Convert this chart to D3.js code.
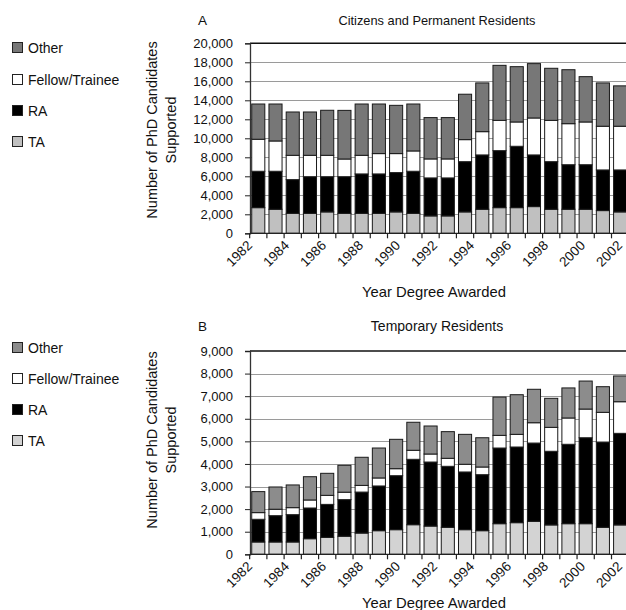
<!DOCTYPE html>
<html>
<head>
<meta charset="utf-8">
<script src="https://cdn.jsdelivr.net/npm/d3@7"></script>
<style>
  html, body { margin: 0; padding: 0; background: #fff; }
  svg { display: block; font-family: "Liberation Sans", Arial, Helvetica, sans-serif; }
</style>
</head>
<body>
<svg id="chart" width="626" height="610"></svg>
<script>
// Years covered by both panels
const years = d3.range(1982, 2004);
const yearTickLabels = [1982, 1984, 1986, 1988, 1990, 1992, 1994, 1996, 1998, 2000, 2002];
const seriesNames = ["TA", "RA", "Fellow/Trainee", "Other"];

// Panel A: citizens and permanent residents
const citizensTA     = [2700, 2530, 2100, 2100, 2250, 2100, 2100, 2100, 2250, 2100, 1830, 1830, 2250, 2530, 2700, 2700, 2810, 2530, 2530, 2530, 2390, 2250];
const citizensRA     = [3830, 4000, 3550, 3860, 3710, 3860, 4150, 4150, 4140, 4430, 4000, 4000, 5290, 5720, 6000, 6460, 5440, 5010, 4690, 4690, 4280, 4420];
const citizensFellow = [3370, 3190, 2560, 2250, 2250, 1860, 1960, 2140, 2000, 2140, 2000, 2000, 2320, 2450, 3190, 2560, 3890, 4350, 4320, 4500, 4600, 4600];
const citizensOther  = [3710, 3890, 4560, 4560, 4740, 5120, 5400, 5220, 5080, 4940, 4350, 4350, 4780, 5130, 5790, 5820, 5720, 5480, 5680, 4770, 4560, 4250];
const citizensTicks  = [0, 2000, 4000, 6000, 8000, 10000, 12000, 14000, 16000, 18000, 20000];

// Panel B: temporary residents
const temporaryTA     = [545, 545, 545, 690, 750, 800, 940, 1045, 1090, 1310, 1250, 1195, 1090, 1045, 1355, 1400, 1460, 1300, 1355, 1355, 1195, 1300];
const temporaryRA     = [1005, 1165, 1210, 1360, 1460, 1620, 1815, 1980, 2390, 2895, 2835, 2700, 2555, 2480, 3350, 3350, 3465, 3260, 3515, 3805, 3775, 4055];
const temporaryFellow = [295, 285, 310, 355, 400, 330, 295, 355, 310, 400, 355, 355, 340, 340, 560, 560, 900, 1060, 1165, 1270, 1315, 1400];
const temporaryOther  = [930, 985, 1005, 1030, 975, 1190, 1245, 1325, 1300, 1240, 1240, 1180, 1325, 1295, 1695, 1755, 1480, 1285, 1330, 1240, 1135, 1140];
const temporaryTicks  = [0, 1000, 2000, 3000, 4000, 5000, 6000, 7000, 8000, 9000];

const svg = d3.select("#chart");
const fmt = d3.format(",");

// the year labels run on their own evenly spaced axis under the bars
const labelX = d3.scaleLinear().domain([1982, 2002]).range([253, 623]);

function drawPanel(cfg) {
  const rows = years.map((yr, i) => ({
    year: yr,
    "TA": cfg.ta[i],
    "RA": cfg.ra[i],
    "Fellow/Trainee": cfg.fellow[i],
    "Other": cfg.other[i]
  }));
  const stacked = d3.stack().keys(seriesNames)(rows);

  const x = d3.scaleBand().domain(years)
    .range([cfg.left, cfg.left + 22 * 17.2])
    .paddingInner(0.24).paddingOuter(0.1);
  const y = d3.scaleLinear().domain([0, cfg.max]).range([cfg.bottom, cfg.top]);

  const g = svg.append("g");

  // horizontal gridlines
  g.append("g").selectAll("line")
    .data(cfg.ticks.slice(1, -1))
    .join("line")
    .attr("x1", cfg.left).attr("x2", 626)
    .attr("y1", d => Math.round(y(d)) + 0.5).attr("y2", d => Math.round(y(d)) + 0.5)
    .attr("stroke", "#9a9a9a").attr("stroke-width", 1);

  // top border of plot area
  g.append("line")
    .attr("x1", cfg.left).attr("x2", 626)
    .attr("y1", y(cfg.max)).attr("y2", y(cfg.max))
    .attr("stroke", "#111").attr("stroke-width", 1.6);

  // stacked bars
  g.append("g").selectAll("g")
    .data(stacked)
    .join("g")
    .attr("fill", d => cfg.colors[d.key])
    .selectAll("rect")
    .data(d => d)
    .join("rect")
    .attr("x", d => x(d.data.year))
    .attr("width", x.bandwidth())
    .attr("y", d => y(d[1]))
    .attr("height", d => y(d[0]) - y(d[1]))
    .attr("stroke", "#1a1a1a").attr("stroke-width", 1);

  // y axis
  const yAxis = d3.axisLeft(y).tickValues(cfg.ticks).tickFormat(fmt).tickSize(5).tickPadding(12);
  const ya = g.append("g").attr("transform", `translate(${cfg.left},0)`).call(yAxis);
  ya.select(".domain").attr("stroke", "#333").attr("stroke-width", 1.3);
  ya.selectAll(".tick line").attr("stroke", "#222");
  ya.selectAll("text").attr("font-size", 13).attr("fill", "#111")
    .attr("font-family", "'Liberation Sans', Arial, sans-serif");

  // x axis: ticks sit between categories
  g.append("line")
    .attr("x1", cfg.left).attr("x2", 626)
    .attr("y1", cfg.bottom).attr("y2", cfg.bottom)
    .attr("stroke", "#222").attr("stroke-width", 1.3);
  g.append("g").selectAll("line")
    .data(years)
    .join("line")
    .attr("x1", d => x(d) - (x.step() - x.bandwidth()) / 2)
    .attr("x2", d => x(d) - (x.step() - x.bandwidth()) / 2)
    .attr("y1", cfg.bottom).attr("y2", cfg.bottom + 5)
    .attr("stroke", "#222").attr("stroke-width", 1.2);

  g.append("g").selectAll("text")
    .data(yearTickLabels)
    .join("text")
    .attr("transform", d => `translate(${labelX(d)},${cfg.bottom + 13}) rotate(-45)`)
    .attr("text-anchor", "end")
    .attr("font-size", 13.5).attr("fill", "#111")
    .text(d => d);

  // axis titles
  g.append("text")
    .attr("x", 434).attr("y", cfg.xTitleY)
    .attr("text-anchor", "middle").attr("font-size", 14.8).attr("fill", "#111")
    .text("Year Degree Awarded");

  const yt = g.append("text")
    .attr("transform", `translate(157,${cfg.yTitleMid}) rotate(-90)`)
    .attr("text-anchor", "middle").attr("font-size", 14.5).attr("fill", "#111");
  yt.append("tspan").attr("x", 0).attr("dy", 0).text("Number of PhD Candidates");
  yt.append("tspan").attr("x", 0).attr("dy", 19).text("Supported");

  // panel letter and title
  g.append("text").attr("x", 198).attr("y", cfg.titleY)
    .attr("font-size", 13.5).attr("fill", "#111").text(cfg.letter);
  g.append("text").attr("x", 437).attr("y", cfg.titleY)
    .attr("text-anchor", "middle").attr("font-size", cfg.titleSize).attr("fill", "#111")
    .text(cfg.title);

  // legend
  const legendOrder = ["Other", "Fellow/Trainee", "RA", "TA"];
  const lg = g.append("g").selectAll("g")
    .data(legendOrder)
    .join("g")
    .attr("transform", (d, i) => `translate(0,${cfg.legendY[i]})`);
  lg.append("rect")
    .attr("x", 12.5).attr("y", -5.5).attr("width", 10).attr("height", 10)
    .attr("fill", d => cfg.colors[d]).attr("stroke", "#222").attr("stroke-width", 1);
  lg.append("text")
    .attr("x", 28).attr("y", 5)
    .attr("font-size", 14).attr("fill", "#111")
    .text(d => d);
}

drawPanel({
  letter: "A",
  title: "Citizens and Permanent Residents",
  titleSize: 12.8,
  ta: citizensTA, ra: citizensRA, fellow: citizensFellow, other: citizensOther,
  ticks: citizensTicks, max: 20000,
  left: 250, top: 43.3, bottom: 233.3,
  titleY: 25, xTitleY: 297, yTitleMid: 130,
  legendY: [48, 80, 111, 142],
  colors: { "Other": "#777777", "Fellow/Trainee": "#ffffff", "RA": "#000000", "TA": "#c0c0c0" }
});

drawPanel({
  letter: "B",
  title: "Temporary Residents",
  titleSize: 14,
  ta: temporaryTA, ra: temporaryRA, fellow: temporaryFellow, other: temporaryOther,
  ticks: temporaryTicks, max: 9000,
  left: 250, top: 351, bottom: 554.3,
  titleY: 331, xTitleY: 608, yTitleMid: 440,
  legendY: [348, 379, 410, 441],
  colors: { "Other": "#8c8c8c", "Fellow/Trainee": "#ffffff", "RA": "#000000", "TA": "#d3d3d3" }
});
</script>
</body>
</html>
